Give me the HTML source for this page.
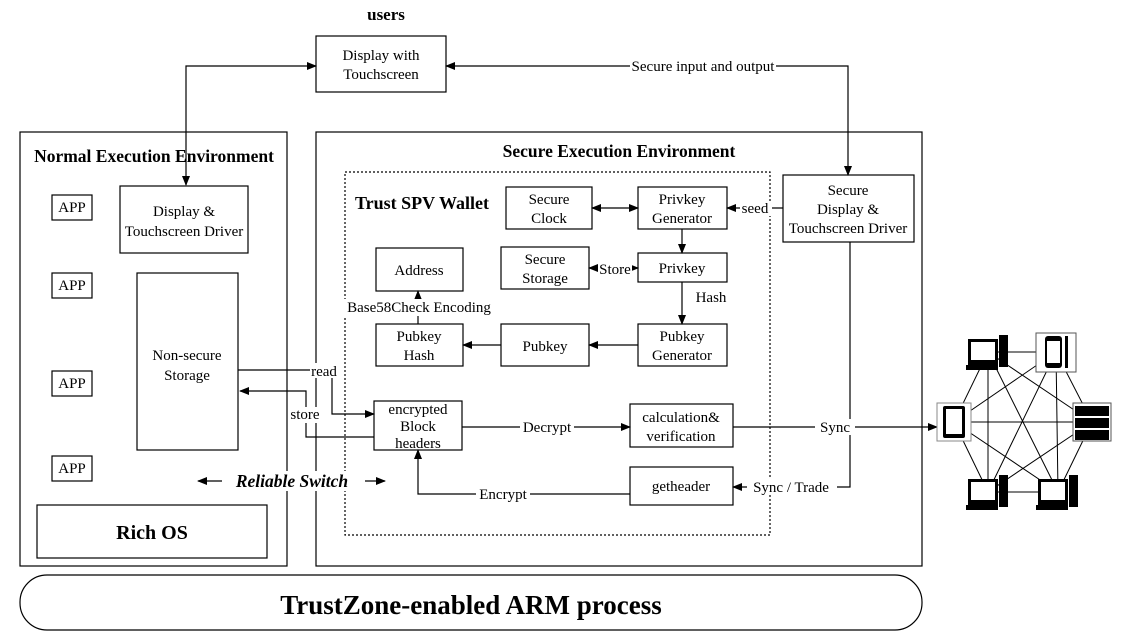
<!DOCTYPE html>
<html><head><meta charset="utf-8"><style>
html,body{margin:0;padding:0;background:#fff;}
svg{display:block;font-family:"Liberation Serif",serif;}
</style></head><body>
<svg width="1129" height="639" viewBox="0 0 1129 639" xmlns="http://www.w3.org/2000/svg">
<defs>
<marker id="a" markerWidth="10" markerHeight="8" refX="9" refY="4" orient="auto-start-reverse" markerUnits="userSpaceOnUse"><path d="M0,0 L10,4 L0,8 Z" fill="#000"/></marker>
</defs>
<g fill="none" stroke="#000" stroke-width="1.2">
<rect x="316" y="36" width="130" height="56"/>
<rect x="20" y="132" width="267" height="434"/>
<rect x="316" y="132" width="606" height="434"/>
<rect x="345" y="172" width="425" height="363" stroke-dasharray="2,2"/>
<rect x="52" y="195" width="40" height="25"/>
<rect x="52" y="273" width="40" height="25"/>
<rect x="52" y="371" width="40" height="25"/>
<rect x="52" y="456" width="40" height="25"/>
<rect x="120" y="186" width="128" height="67"/>
<rect x="137" y="273" width="101" height="177"/>
<rect x="37" y="505" width="230" height="53"/>
<rect x="506" y="187" width="86" height="42"/>
<rect x="638" y="187" width="89" height="42"/>
<rect x="783" y="175" width="131" height="67"/>
<rect x="376" y="248" width="87" height="43"/>
<rect x="501" y="247" width="88" height="42"/>
<rect x="638" y="253" width="89" height="29"/>
<rect x="376" y="324" width="87" height="42"/>
<rect x="501" y="324" width="88" height="42"/>
<rect x="638" y="324" width="89" height="42"/>
<rect x="374" y="401" width="88" height="49"/>
<rect x="630" y="404" width="103" height="43"/>
<rect x="630" y="467" width="103" height="38"/>
<rect x="20" y="575" width="902" height="55" rx="27"/>
<path d="M186,185 V66 H316" marker-start="url(#a)" marker-end="url(#a)"/>
<path d="M446,66 H848 V175" marker-start="url(#a)" marker-end="url(#a)"/>
<path d="M783,208 H727" marker-end="url(#a)"/>
<path d="M592,208 H638" marker-start="url(#a)" marker-end="url(#a)"/>
<path d="M682,229 V253" marker-end="url(#a)"/>
<path d="M638,268 H589" marker-start="url(#a)" marker-end="url(#a)"/>
<path d="M682,282 V324" marker-end="url(#a)"/>
<path d="M638,345 H589" marker-end="url(#a)"/>
<path d="M501,345 H463" marker-end="url(#a)"/>
<path d="M418,324 V291" marker-end="url(#a)"/>
<path d="M238,370 H332 V414 H374" marker-end="url(#a)"/>
<path d="M374,437 H306 V391 H240" marker-end="url(#a)"/>
<path d="M462,427 H630" marker-end="url(#a)"/>
<path d="M733,427 H937" marker-end="url(#a)"/>
<path d="M850,242 V487 H733" marker-end="url(#a)"/>
<path d="M630,494 H418 V450" marker-end="url(#a)"/>
<path d="M222,481 H198" marker-end="url(#a)"/>
<path d="M365,481 H385" marker-end="url(#a)"/>
<g stroke-width="1">
<path d="M988,352 L1056,352 M988,352 L954,422 M988,352 L1092,422 M988,352 L988,492 M988,352 L1058,492
M1056,352 L954,422 M1056,352 L1092,422 M1056,352 L988,492 M1056,352 L1058,492
M954,422 L1092,422 M954,422 L988,492 M954,422 L1058,492
M1092,422 L988,492 M1092,422 L1058,492 M988,492 L1058,492"/>
</g>
</g>
<g>
<rect x="937" y="403" width="34" height="38" fill="#fff" stroke="#888"/>
<rect x="943" y="406" width="22" height="32" rx="2" fill="#000"/><rect x="946" y="409" width="16" height="25" fill="#fff"/>
<rect x="1036" y="333" width="40" height="39" fill="#fff" stroke="#555"/>
<rect x="1045" y="336" width="17" height="32" rx="3" fill="#000"/><rect x="1047" y="341" width="13" height="22" fill="#fff"/>
<rect x="1065" y="336" width="3" height="32" fill="#000"/>
<rect x="1073" y="403" width="38" height="38" fill="#fff" stroke="#555"/>
<rect x="1075" y="406" width="34" height="10" fill="#000"/><rect x="1075" y="418" width="34" height="10" fill="#000"/><rect x="1075" y="430" width="34" height="10" fill="#000"/>
<g id="pc"><rect x="968" y="339" width="30" height="26" fill="#000"/><rect x="971" y="342" width="24" height="18" fill="#fff"/><rect x="999" y="335" width="9" height="32" fill="#000"/><rect x="966" y="365" width="32" height="5" fill="#000"/></g>
<use href="#pc" transform="translate(0,140)"/>
<use href="#pc" transform="translate(70,140)"/>
</g>
<g font-size="15" text-anchor="middle" fill="#000">
<text x="386" y="20" font-size="17" font-weight="bold">users</text>
<text x="381" y="60">Display with</text><text x="381" y="79">Touchscreen</text>
<text x="154" y="162" font-size="17.5" font-weight="bold">Normal Execution Environment</text>
<text x="619" y="157" font-size="17.5" font-weight="bold">Secure Execution Environment</text>
<text x="422" y="209" font-size="18" font-weight="bold">Trust SPV Wallet</text>
<text x="72" y="212">APP</text><text x="72" y="290">APP</text><text x="72" y="388">APP</text><text x="72" y="473">APP</text>
<text x="184" y="216">Display &amp;</text><text x="184" y="236">Touchscreen Driver</text>
<text x="187" y="360">Non-secure</text><text x="187" y="380">Storage</text>
<text x="152" y="539" font-size="20" font-weight="bold">Rich OS</text>
<text x="549" y="204">Secure</text><text x="549" y="223">Clock</text>
<text x="682" y="204">Privkey</text><text x="682" y="223">Generator</text>
<text x="848" y="195">Secure</text><text x="848" y="214">Display &amp;</text><text x="848" y="233">Touchscreen Driver</text>
<text x="419" y="275">Address</text>
<text x="545" y="264">Secure</text><text x="545" y="283">Storage</text>
<text x="682" y="273">Privkey</text>
<text x="419" y="341">Pubkey</text><text x="419" y="360">Hash</text>
<text x="545" y="351">Pubkey</text>
<text x="682" y="341">Pubkey</text><text x="682" y="360">Generator</text>
<text x="418" y="414">encrypted</text><text x="418" y="431">Block</text><text x="418" y="448">headers</text>
<text x="681" y="422">calculation&amp;</text><text x="681" y="441">verification</text>
<text x="681" y="491">getheader</text>
<text x="471" y="614" font-size="27" font-weight="bold">TrustZone-enabled ARM process</text>
</g>
<g font-size="15" text-anchor="middle" fill="#000">
<rect x="630" y="58" width="146" height="16" fill="#fff"/><text x="703" y="71">Secure input and output</text>
<rect x="740" y="201" width="32" height="15" fill="#fff"/><text x="755" y="213">seed</text>
<rect x="598" y="261" width="34" height="15" fill="#fff"/><text x="615" y="274">Store</text>
<text x="711" y="302">Hash</text>
<rect x="344" y="299" width="150" height="17" fill="#fff"/><text x="419" y="312">Base58Check Encoding</text>
<rect x="310" y="363" width="30" height="15" fill="#fff"/><text x="324" y="376">read</text>
<rect x="288" y="407" width="36" height="16" fill="#fff"/><text x="305" y="419">store</text>
<rect x="520" y="419" width="54" height="16" fill="#fff"/><text x="547" y="432">Decrypt</text>
<rect x="815" y="419" width="40" height="16" fill="#fff"/><text x="835" y="432">Sync</text>
<rect x="747" y="479" width="90" height="16" fill="#fff"/><text x="791" y="492">Sync / Trade</text>
<rect x="476" y="487" width="54" height="16" fill="#fff"/><text x="503" y="499">Encrypt</text>
<rect x="228" y="471" width="128" height="20" fill="#fff"/><text x="292" y="487" font-size="17.5" font-weight="bold" font-style="italic">Reliable Switch</text>
</g>
</svg>
</body></html>
